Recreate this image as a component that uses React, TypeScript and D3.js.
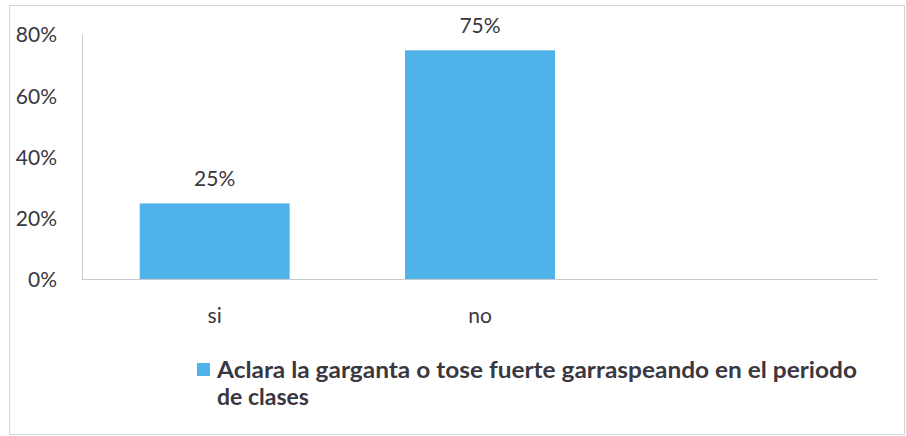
import React from "react";
import * as d3 from "d3";

const categories = ["si", "no", ""];
const values = [0.25, 0.75, null];
const yTicks = [0, 0.2, 0.4, 0.6, 0.8];
const legendLines = ["Aclara la garganta o tose fuerte garraspeando en el periodo", "de clases"];

export default function App() {
  const W = 906, H = 436;
  const x = d3.scaleBand<string>().domain(categories).range([82, 878]).paddingInner(0.435).paddingOuter(0.2175);
  const y = d3.scaleLinear().domain([0, 0.8]).range([280, 35]);
  const fmt = d3.format(".0%");
  const font = "Lato, 'Open Sans', sans-serif";
  const textColor = "#3a3742";
  const barColor = "#4fb2e8";
  return (
    <svg width={W} height={H} style={{ position: "absolute", left: 0, top: 0 }} fontFamily={font}>
      <rect x={0} y={0} width={W} height={H} fill="#fff" />
      <rect x={9.5} y={5.5} width={895} height={429} fill="none" stroke="#d4d4dc" strokeWidth={1} />
      {yTicks.map((t) => (
        <text key={t} x={57} y={y(t)} dy="0.35em" textAnchor="end" fontSize={21} fill={textColor}>
          {fmt(t)}
        </text>
      ))}
      <line x1={82.5} x2={82.5} y1={y(0.8)} y2={y(0)} stroke="#c8c8d0" />
      {categories.map((c, i) =>
        values[i] == null ? null : (
          <g key={c}>
            <rect x={x(c)} y={y(values[i] as number)} width={x.bandwidth()} height={y(0) - y(values[i] as number)} fill={barColor} />
            <text x={(x(c) as number) + x.bandwidth() / 2} y={y(values[i] as number) - 17.5} textAnchor="middle" fontSize={21} fill={textColor}>
              {fmt(values[i] as number)}
            </text>
          </g>
        )
      )}
      <line x1={82} x2={878} y1={279.5} y2={279.5} stroke="#c8c8d0" />
      {categories.map((c) => (
        <text key={"l" + c} x={(x(c) as number) + x.bandwidth() / 2} y={323} textAnchor="middle" fontSize={21} fill={textColor}>
          {c}
        </text>
      ))}
      <rect x={197} y={363} width={13} height={13} fill={barColor} />
      {legendLines.map((l, i) => (
        <text
          key={i}
          x={217}
          y={378 + i * 27}
          fontSize={23}
          fontWeight="bold"
          fill={textColor}
          textLength={i === 0 ? 640 : undefined}
          lengthAdjust={i === 0 ? "spacingAndGlyphs" : undefined}
        >
          {l}
        </text>
      ))}
    </svg>
  );
}
